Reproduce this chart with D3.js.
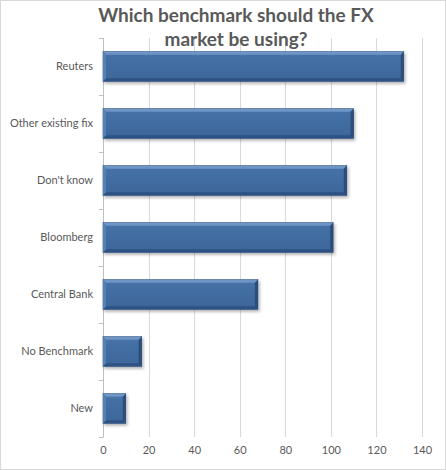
<!DOCTYPE html>
<html>
<head>
<meta charset="utf-8">
<script src="https://cdn.jsdelivr.net/npm/d3@7"></script>
<style>
  body { margin: 0; background: #fff; }
  svg text { font-family: Lato, "Open Sans", sans-serif; fill: #595959; }
</style>
</head>
<body>
<div id="entry"></div>
<script>
var categories = ['Reuters', 'Other existing fix', "Don't know", 'Bloomberg', 'Central Bank', 'No Benchmark', 'New'];
var values = [132, 110, 107, 101, 68, 17, 10];
var xTicks = [0, 20, 40, 60, 80, 100, 120, 140];
var titleLines = ['Which benchmark should the FX', 'market be using?'];

var W = 446, H = 470;
var margin = {top: 38, right: 24, bottom: 33, left: 103},
    width = W - margin.left - margin.right,
    height = H - margin.top - margin.bottom;

var svg = d3.select('#entry').append('svg')
    .attr('width', W)
    .attr('height', H);

// outer border
svg.append('rect')
    .attr('x', 0.5).attr('y', 0.5)
    .attr('width', W - 1).attr('height', H - 1)
    .attr('fill', '#fff')
    .attr('stroke', '#d9d9d9');

var x = d3.scaleLinear().domain([0, 140]).range([0, width]);
var y = d3.scaleBand().domain(categories).range([0, height]).paddingInner(0.48).paddingOuter(0.24);

var g = svg.append('g')
    .attr('transform', 'translate(' + margin.left + ',' + margin.top + ')');

// gridlines
g.selectAll('line.grid')
    .data(xTicks.slice(1))
    .enter().append('line')
    .attr('class', 'grid')
    .attr('x1', function(d) { return Math.round(x(d)) + 0.5; })
    .attr('x2', function(d) { return Math.round(x(d)) + 0.5; })
    .attr('y1', 0).attr('y2', height)
    .attr('stroke', '#d9d9d9');

// x axis labels
var xAxis = d3.axisBottom(x).tickValues(xTicks).tickSize(0).tickPadding(9);
var xg = g.append('g')
    .attr('transform', 'translate(0,' + height + ')')
    .call(xAxis);
xg.select('.domain').remove();
xg.selectAll('text').style('font-size', '11px').attr('fill', '#595959');

// y axis with ticks between categories
var yg = g.append('g');
yg.append('line')
    .attr('x1', 0.5).attr('x2', 0.5)
    .attr('y1', 0).attr('y2', height)
    .attr('stroke', '#bfbfbf');
var step = height / categories.length;
yg.selectAll('line.tk')
    .data(d3.range(categories.length + 1))
    .enter().append('line')
    .attr('class', 'tk')
    .attr('x1', -4).attr('x2', 0.5)
    .attr('y1', function(i) { return Math.round(i * step) + 0.5; })
    .attr('y2', function(i) { return Math.round(i * step) + 0.5; })
    .attr('stroke', '#bfbfbf');
yg.selectAll('text')
    .data(categories)
    .enter().append('text')
    .attr('x', -10)
    .attr('y', function(d) { return y(d) + y.bandwidth() / 2; })
    .attr('dy', '0.35em')
    .attr('text-anchor', 'end')
    .style('font-size', '11px')
    .text(function(d) { return d; });

// bar gradient + shadow
var defs = svg.append('defs');
var grad = defs.append('linearGradient').attr('id', 'barGrad')
    .attr('x1', 0).attr('y1', 0).attr('x2', 0).attr('y2', 1);
grad.append('stop').attr('offset', '0%').attr('stop-color', '#4673a8');
grad.append('stop').attr('offset', '100%').attr('stop-color', '#3d6699');
var sh = defs.append('filter').attr('id', 'shadow')
    .attr('x', '-10%').attr('y', '-10%').attr('width', '130%').attr('height', '150%');
sh.append('feDropShadow').attr('dx', 1.5).attr('dy', 2).attr('stdDeviation', 1.5)
    .attr('flood-color', '#000').attr('flood-opacity', 0.3);

var bev = 3;
var bars = g.selectAll('g.bar')
    .data(categories)
    .enter().append('g')
    .attr('class', 'bar');

bars.append('rect')
    .attr('x', 0)
    .attr('y', function(d) { return y(d); })
    .attr('width', function(d, i) { return x(values[i]); })
    .attr('height', y.bandwidth())
    .attr('fill', 'url(#barGrad)')
    .attr('stroke', '#2f5280')
    .attr('stroke-width', 0.6)
    .attr('filter', 'url(#shadow)');

// bevel edges
function bevel(d, i, side) {
  var x0 = 0, x1 = x(values[i]), y0 = y(d), y1 = y(d) + y.bandwidth();
  var pts;
  if (side === 'top') pts = [[x0, y0], [x1, y0], [x1 - bev, y0 + bev], [x0 + bev, y0 + bev]];
  if (side === 'bottom') pts = [[x0, y1], [x1, y1], [x1 - bev, y1 - bev], [x0 + bev, y1 - bev]];
  if (side === 'left') pts = [[x0, y0], [x0 + bev, y0 + bev], [x0 + bev, y1 - bev], [x0, y1]];
  if (side === 'right') pts = [[x1, y0], [x1 - bev, y0 + bev], [x1 - bev, y1 - bev], [x1, y1]];
  return 'M' + pts.join('L') + 'Z';
}
var bevColors = {top: '#6f95c4', bottom: '#2e5283', left: '#5580b5', right: '#2c4d7a'};
['top', 'bottom', 'left', 'right'].forEach(function(side) {
  bars.append('path')
      .attr('d', function(d, i) { return bevel(d, i, side); })
      .attr('fill', bevColors[side]);
});

// title
svg.append('text')
    .attr('x', 236)
    .attr('y', 22)
    .attr('text-anchor', 'middle')
    .style('font-size', '19px')
    .style('font-weight', 'bold')
    .selectAll('tspan')
    .data(titleLines)
    .enter().append('tspan')
    .attr('x', 236)
    .attr('dy', function(d, i) { return i ? 24 : 0; })
    .text(function(d) { return d; });
</script>
</body>
</html>
